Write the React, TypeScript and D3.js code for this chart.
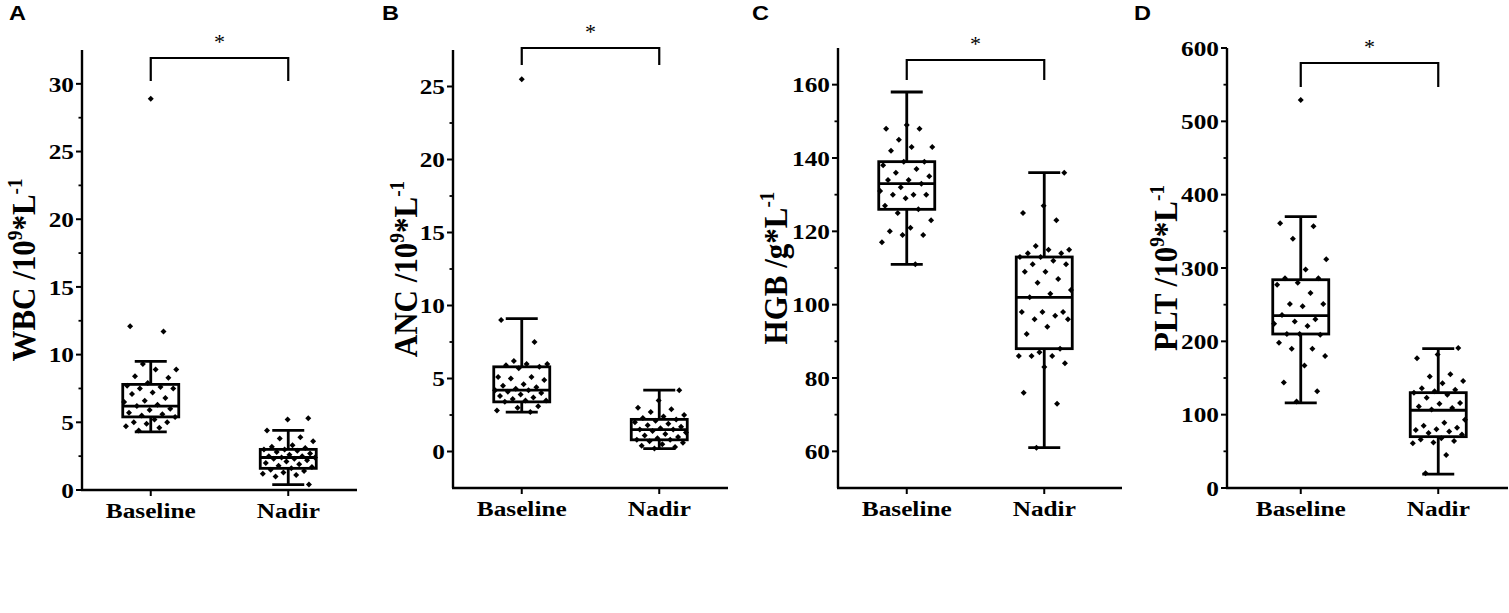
import React, { useRef, useEffect } from 'react';
import * as d3 from 'd3';

const categories = ['Baseline', 'Nadir'];

// WBC (10^9/L)
const wbcBaseline = [28.9, 12.1, 11.7, 9.3, 8.9, 8.9, 8.4, 8.3, 7.9, 7.7, 7.6, 7.5, 7.5, 7.2, 7.1, 6.8, 6.6, 6.5, 6.3, 6.2, 6.0, 5.9, 5.7, 5.6, 5.5, 5.4, 5.2, 5.0, 5.0, 4.9, 4.7, 4.6, 4.4];
const wbcNadir = [5.3, 5.2, 4.4, 3.9, 3.8, 3.6, 3.3, 3.2, 3.1, 3.0, 3.0, 2.9, 2.8, 2.7, 2.6, 2.5, 2.5, 2.4, 2.4, 2.3, 2.3, 2.2, 2.1, 2.0, 1.9, 1.8, 1.7, 1.6, 1.5, 1.4, 1.3, 1.2, 1.1, 1.0, 0.4];
const wbcBoxes = [[4.3, 5.4, 6.2, 7.8, 9.5], [0.4, 1.6, 2.4, 3.0, 4.4]];
const wbcTicks = [0, 5, 10, 15, 20, 25, 30];

// ANC (10^9/L)
const ancBaseline = [25.5, 9.0, 7.5, 6.2, 6.0, 6.0, 5.9, 5.8, 5.7, 5.1, 5.1, 5.0, 4.9, 4.6, 4.5, 4.4, 4.3, 4.2, 4.2, 4.1, 4.0, 3.9, 3.8, 3.7, 3.6, 3.5, 3.5, 3.4, 3.1, 3.0, 2.8, 2.7];
const ancNadir = [4.2, 3.5, 3.0, 2.9, 2.7, 2.5, 2.4, 2.3, 2.2, 2.1, 2.0, 1.9, 1.8, 1.7, 1.6, 1.5, 1.5, 1.4, 1.3, 1.2, 1.1, 1.0, 0.9, 0.8, 0.8, 0.7, 0.6, 0.5, 0.4, 0.3, 0.2];
const ancBoxes = [[2.7, 3.4, 4.2, 5.8, 9.1], [0.2, 0.8, 1.5, 2.2, 4.2]];
const ancTicks = [0, 5, 10, 15, 20, 25];

// HGB (g/L)
const hgbBaseline = [149, 148, 148, 145, 143, 143, 142, 139, 139, 138, 137, 136, 135, 134, 134, 133, 132, 131, 130, 130, 130, 129, 127, 126, 125, 123, 121, 120, 119, 119, 117, 111];
const hgbNadir = [136, 127, 125, 123, 116, 115, 115, 114, 114, 113, 113, 112, 111, 111, 109, 109, 107, 106, 104, 103, 102, 98, 98, 98, 97, 96, 96, 94, 92, 88, 87, 86, 86, 86, 84, 83, 76, 73, 61];
const hgbBoxes = [[111, 126, 133, 139, 158], [61, 88, 102, 113, 136]];
const hgbTicks = [60, 80, 100, 120, 140, 160];

// PLT (10^9/L)
const pltBaseline = [529, 361, 357, 340, 312, 298, 286, 286, 280, 277, 266, 251, 251, 248, 236, 230, 227, 224, 221, 210, 209, 210, 198, 190, 190, 180, 167, 144, 132, 118];
const pltNadir = [191, 182, 177, 155, 152, 146, 143, 136, 134, 132, 130, 127, 123, 116, 115, 111, 109, 107, 93, 89, 85, 82, 80, 79, 77, 75, 73, 68, 66, 64, 62, 61, 45, 20];
const pltBoxes = [[116, 210, 235, 284, 370], [19, 70, 106, 130, 190]];
const pltTicks = [0, 100, 200, 300, 400, 500, 600];

interface Panel {
  letter: string;
  label: [string, string][]; // [text, 'n' | 's']
  domain: [number, number];
  minorStep: number;
  ticks: number[];
  groups: number[][];
  boxes: number[][];
  // layout
  x0: number; xEnd: number; catRange: [number, number];
  yTop: number; yBottom: number;
  bracketTop: number; bracketBottom: number; starY: number;
  labelX: number; letterX: number;
}

const panels: Panel[] = [
  {
    letter: 'A', label: [['WBC /10', 'n'], ['9', 's'], ['*L', 'n'], ['-1', 's']],
    domain: [0, 32.5], minorStep: 5, ticks: wbcTicks, groups: [wbcBaseline, wbcNadir], boxes: wbcBoxes,
    x0: 82, xEnd: 357, catRange: [82, 357], yTop: 50, yBottom: 490,
    bracketTop: 58, bracketBottom: 81, starY: 38, labelX: 35, letterX: 9,
  },
  {
    letter: 'B', label: [['ANC /10', 'n'], ['9', 's'], ['*L', 'n'], ['-1', 's']],
    domain: [-2.5, 27.5], minorStep: 5, ticks: ancTicks, groups: [ancBaseline, ancNadir], boxes: ancBoxes,
    x0: 453, xEnd: 728, catRange: [453, 728], yTop: 50, yBottom: 488,
    bracketTop: 48, bracketBottom: 65, starY: 28, labelX: 417, letterX: 382,
  },
  {
    letter: 'C', label: [['HGB /g*L', 'n'], ['-1', 's']],
    domain: [50, 170], minorStep: 20, ticks: hgbTicks, groups: [hgbBaseline, hgbNadir], boxes: hgbBoxes,
    x0: 838, xEnd: 1122, catRange: [838, 1113], yTop: 48, yBottom: 488,
    bracketTop: 60, bracketBottom: 80, starY: 40, labelX: 787, letterX: 752,
  },
  {
    letter: 'D', label: [['PLT /10', 'n'], ['9', 's'], ['*L', 'n'], ['-1', 's']],
    domain: [0, 600], minorStep: 100, ticks: pltTicks, groups: [pltBaseline, pltNadir], boxes: pltBoxes,
    x0: 1227, xEnd: 1508, catRange: [1232, 1507], yTop: 48, yBottom: 488,
    bracketTop: 63, bracketBottom: 87, starY: 43, labelX: 1177, letterX: 1134,
  },
];

const SERIF = "'Liberation Serif', 'Times New Roman', serif";
const SANS = "'Liberation Sans', Arial, sans-serif";
const STRETCH = 1.15;

const App: React.FC = () => {
  const svgRef = useRef<SVGSVGElement | null>(null);

  useEffect(() => {
    const svg = d3.select(svgRef.current!);
    svg.selectAll('*').remove();

    panels.forEach((p) => {
      const g = svg.append('g');
      const y = d3.scaleLinear().domain(p.domain).range([p.yBottom, p.yTop]);
      const x = d3.scalePoint<string>().domain(categories).range(p.catRange).padding(0.5);

      // axis lines
      g.append('line')
        .attr('x1', p.x0).attr('x2', p.x0)
        .attr('y1', p.yTop).attr('y2', p.yBottom)
        .attr('stroke', '#000').attr('stroke-width', 2.4);
      g.append('line')
        .attr('x1', p.x0 - 1).attr('x2', p.xEnd)
        .attr('y1', p.yBottom).attr('y2', p.yBottom)
        .attr('stroke', '#000').attr('stroke-width', 2.4);

      // major ticks + labels
      p.ticks.forEach((t) => {
        g.append('line')
          .attr('x1', p.x0 - 6).attr('x2', p.x0)
          .attr('y1', y(t)).attr('y2', y(t))
          .attr('stroke', '#000').attr('stroke-width', 2);
        g.append('text')
          .attr('transform', `translate(${p.x0 - 8},${y(t)}) scale(${STRETCH},1)`)
          .attr('dy', '0.35em')
          .attr('text-anchor', 'end')
          .attr('font-family', SERIF)
          .attr('font-weight', 'bold')
          .attr('font-size', 22)
          .text(String(t));
      });
      // minor ticks
      const minors = d3.range(p.ticks[0] - p.minorStep / 2, p.domain[1], p.minorStep)
        .filter((v) => v > p.domain[0] && v < p.domain[1]);
      minors.forEach((t) => {
        g.append('line')
          .attr('x1', p.x0 - 3.5).attr('x2', p.x0)
          .attr('y1', y(t)).attr('y2', y(t))
          .attr('stroke', '#000').attr('stroke-width', 1.8);
      });

      // category ticks + labels
      categories.forEach((c) => {
        g.append('line')
          .attr('x1', x(c)!).attr('x2', x(c)!)
          .attr('y1', p.yBottom).attr('y2', p.yBottom + 6)
          .attr('stroke', '#000').attr('stroke-width', 2);
        g.append('text')
          .attr('transform', `translate(${x(c)},${p.yBottom + 28}) scale(${STRETCH},1)`)
          .attr('text-anchor', 'middle')
          .attr('font-family', SERIF)
          .attr('font-weight', 'bold')
          .attr('font-size', 22)
          .text(c);
      });

      // y label
      const lab = g.append('text')
        .attr('transform', `translate(${p.labelX},${(p.yTop + p.yBottom) / 2}) rotate(-90) scale(1,1.12)`)
        .attr('text-anchor', 'middle')
        .attr('font-family', SERIF)
        .attr('font-weight', 'bold')
        .attr('font-size', 31);
      let prevSup = false;
      p.label.forEach(([txt, kind]) => {
        const sup = kind === 's';
        const ts = lab.append('tspan').text(txt);
        if (sup && !prevSup) ts.attr('dy', '-0.62em').attr('font-size', '0.62em');
        else if (!sup && prevSup) ts.attr('dy', '0.385em');
        prevSup = sup;
      });

      // panel letter
      g.append('text')
        .attr('transform', `translate(${p.letterX},20) scale(1.12,1)`)
        .attr('font-family', SANS)
        .attr('font-weight', 'bold')
        .attr('font-size', 21)
        .text(p.letter);

      // boxes
      const boxW = 56;
      const capW = 32;
      p.boxes.forEach((b, i) => {
        const cx = x(categories[i])!;
        const [mn, q1, med, q3, mx] = b;
        const bg = g.append('g').attr('stroke', '#000').attr('stroke-width', 2.8).attr('fill', 'none');
        bg.append('line').attr('x1', cx).attr('x2', cx).attr('y1', y(mx)).attr('y2', y(q3));
        bg.append('line').attr('x1', cx).attr('x2', cx).attr('y1', y(q1)).attr('y2', y(mn));
        bg.append('line').attr('x1', cx - capW / 2).attr('x2', cx + capW / 2).attr('y1', y(mx)).attr('y2', y(mx));
        bg.append('line').attr('x1', cx - capW / 2).attr('x2', cx + capW / 2).attr('y1', y(mn)).attr('y2', y(mn));
        bg.append('rect')
          .attr('x', cx - boxW / 2).attr('width', boxW)
          .attr('y', y(q3)).attr('height', y(q1) - y(q3));
        bg.append('line').attr('x1', cx - boxW / 2).attr('x2', cx + boxW / 2).attr('y1', y(med)).attr('y2', y(med));
      });

      // jittered points (first point of baseline – the outlier – sits on the centre line)
      const sym = d3.symbol().type(d3.symbolSquare).size(18);
      p.groups.forEach((vals, i) => {
        const cx = x(categories[i])!;
        g.append('g').selectAll('path')
          .data(vals)
          .enter()
          .append('path')
          .attr('d', sym()!)
          .attr('fill', '#000')
          .attr('transform', (v, j) => {
            const off = (((j * 0.6180339887 + 0.5 + i * 0.37) % 1) - 0.5) * 2 * 27;
            return `translate(${cx + off},${y(v)}) rotate(45)`;
          });
      });

      // significance bracket
      const xa = x(categories[0])!;
      const xb = x(categories[1])!;
      g.append('path')
        .attr('d', `M${xa},${p.bracketBottom}V${p.bracketTop}H${xb}V${p.bracketBottom}`)
        .attr('fill', 'none')
        .attr('stroke', '#000')
        .attr('stroke-width', 2.2);
      g.append('text')
        .attr('x', (xa + xb) / 2)
        .attr('y', p.starY + 11)
        .attr('text-anchor', 'middle')
        .attr('font-family', SERIF)
        .attr('font-size', 22)
        .text('*');
    });
  }, []);

  return (
    <svg
      ref={svgRef}
      width={1509}
      height={613}
      style={{ position: 'absolute', left: 0, top: 0, background: '#fff' }}
    ></svg>
  );
};

export default App;
